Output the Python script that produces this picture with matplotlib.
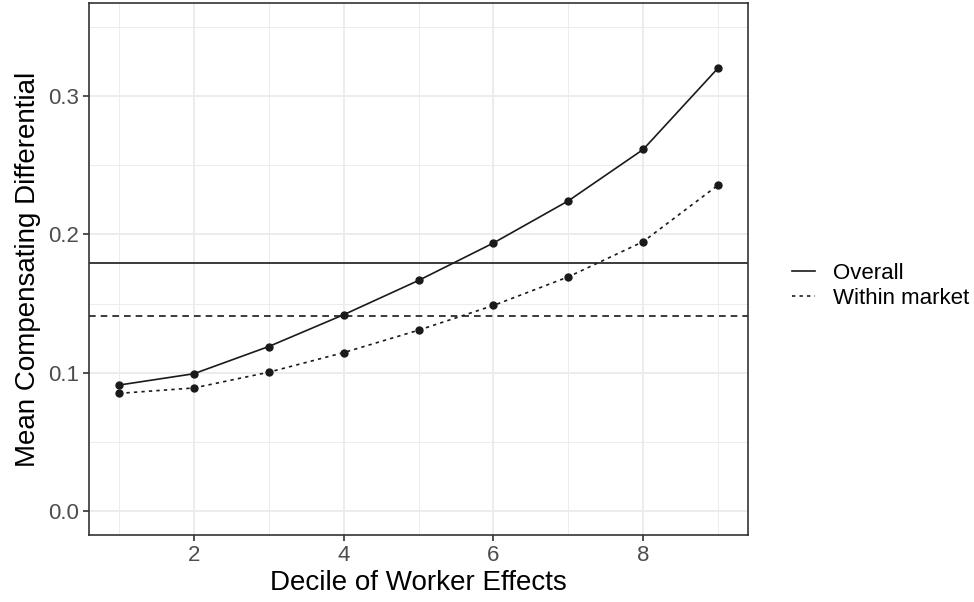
import matplotlib
matplotlib.use('Agg')
import matplotlib.pyplot as plt
from matplotlib.lines import Line2D
from matplotlib.ticker import MultipleLocator, FuncFormatter

plt.rcParams['font.family'] = ['Liberation Sans', 'DejaVu Sans']

# data
deciles = [1, 2, 3, 4, 5, 6, 7, 8, 9]
overall = [0.0910, 0.0992, 0.1189, 0.1419, 0.1667, 0.1938, 0.2243, 0.2615, 0.3204]
within = [0.0850, 0.0889, 0.1003, 0.1145, 0.1307, 0.1486, 0.1693, 0.1948, 0.2357]
overall_mean = 0.1796
within_mean = 0.1408
series_names = ['Overall', 'Within market']

ink = '#1a1a1a'

fig = plt.figure(figsize=(9.74, 6.02), dpi=100)
ax = fig.add_axes([89 / 974, 1 - 535 / 602, (748 - 89) / 974, (535 - 3) / 602])

# grid like ggplot theme_bw
ax.xaxis.set_major_locator(MultipleLocator(2))
ax.xaxis.set_minor_locator(MultipleLocator(1))
ax.yaxis.set_major_locator(MultipleLocator(0.1))
ax.yaxis.set_minor_locator(MultipleLocator(0.05))
ax.grid(which='major', color='#EBEBEB', linewidth=1.3)
ax.grid(which='minor', color='#EBEBEB', linewidth=0.65)
ax.set_axisbelow(True)

ax.axhline(overall_mean, color=ink, linewidth=1.2, linestyle='-')
ax.axhline(within_mean, color=ink, linewidth=1.2, linestyle=(0, (4, 3)))

ax.plot(deciles, overall, color=ink, linewidth=1.2, linestyle='-')
ax.plot(deciles, within, color=ink, linewidth=1.2, linestyle=(0, (2, 2.5)))
ax.plot(deciles, overall, 'o', color=ink, markersize=5, linestyle='none')
ax.plot(deciles, within, 'o', color=ink, markersize=5, linestyle='none')

ax.set_xlim(0.6, 9.4)
ax.set_ylim(-0.0175, 0.3675)
ax.yaxis.set_major_formatter(FuncFormatter(lambda v, p: f'{v:.1f}'))

for s in ax.spines.values():
    s.set_color('#333333')
    s.set_linewidth(1.2)
ax.tick_params(which='major', length=4, width=1.2, color='#333333',
               labelsize=16, labelcolor='#4D4D4D', pad=3)
ax.tick_params(which='minor', length=0)

ax.set_xlabel('Decile of Worker Effects', fontsize=20, color='black', labelpad=3)
ax.set_ylabel('Mean Compensating Differential', fontsize=20, color='black', labelpad=5)

handles = [Line2D([], [], color=ink, linewidth=1.2, linestyle='-'),
           Line2D([], [], color=ink, linewidth=1.2, linestyle=(0, (2, 2.5)))]
fig.legend(handles, series_names, loc='center left', bbox_to_anchor=(792 / 974, 1 - 286 / 602),
           frameon=False, fontsize=16, handlelength=1.05, handletextpad=0.8,
           labelspacing=0.2, borderaxespad=0, borderpad=0)

fig.savefig('out.png', dpi=100)
